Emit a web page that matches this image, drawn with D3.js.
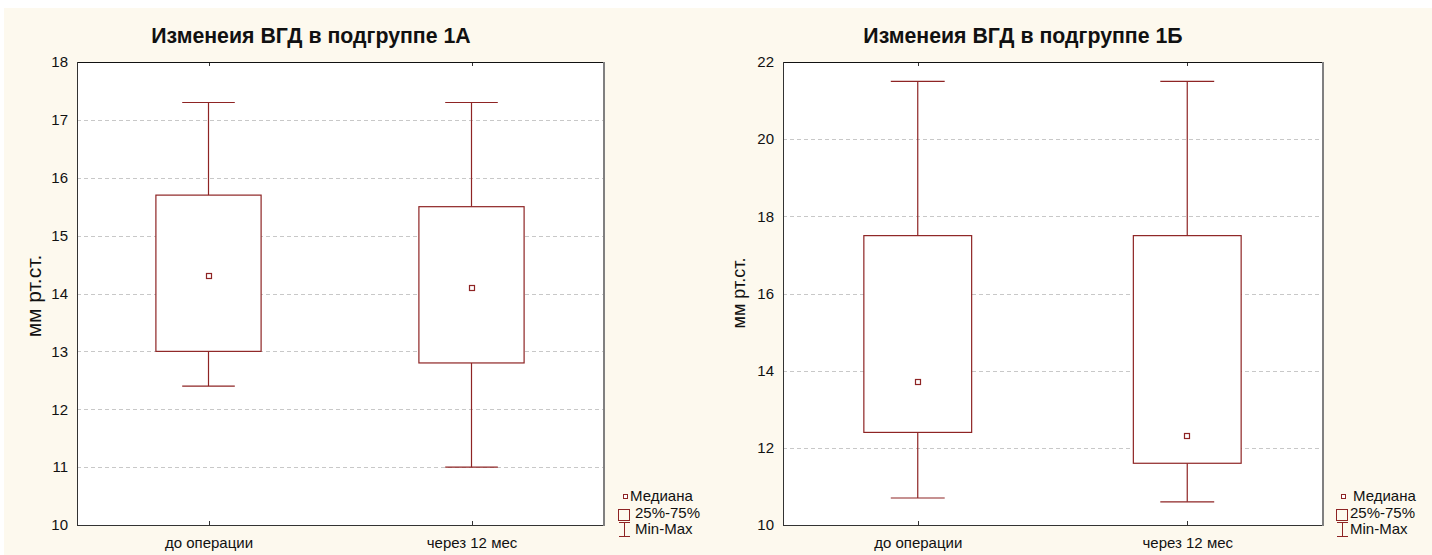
<!DOCTYPE html>
<html><head><meta charset="utf-8">
<script src="https://cdn.jsdelivr.net/npm/d3@7"></script>
<style>body{margin:0;background:#fff;}svg{display:block;font-family:"Liberation Sans",Arial,sans-serif;}</style>
</head><body>
<svg id="c" width="1432" height="555"></svg>
<script>
const categories = ["до операции", "через 12 мес"];
const titles = ["Изменеия ВГД в подгруппе 1А", "Изменеия ВГД в подгруппе 1Б"];
const yLabel = "мм рт.ст.";
// chart 1A
const minA = [12.4, 11.0];
const q1A = [13.0, 12.8];
const medA = [14.3, 14.1];
const q3A = [15.7, 15.5];
const maxA = [17.3, 17.3];
const ticksA = [10, 11, 12, 13, 14, 15, 16, 17, 18];
// chart 1B
const minB = [10.7, 10.6];
const q1B = [12.4, 11.6];
const medB = [13.7, 12.3];
const q3B = [17.5, 17.5];
const maxB = [21.5, 21.5];
const ticksB = [10, 12, 14, 16, 18, 20, 22];
const legendLabels = ["Медиана", "25%-75%", "Min-Max"];

const col = "#8e2424";
const svg = d3.select("#c");
svg.append("rect").attr("x", 4).attr("y", 8).attr("width", 1428).attr("height", 547).attr("fill", "#fdf9ee");

const panels = [
  {x0: 77, x1: 603, y0: 62, y1: 525, titleX: 311, ticks: ticksA, min: minA, q1: q1A, med: medA, q3: q3A, max: maxA, title: titles[0], ylabX: 41, ylabY: 296, ylabFs: 21, legX: 618, medTx: 630, tx: 635},
  {x0: 783, x1: 1322, y0: 62, y1: 525, titleX: 1023, ticks: ticksB, min: minB, q1: q1B, med: medB, q3: q3B, max: maxB, title: titles[1], ylabX: 745, ylabY: 293, ylabFs: 18, legX: 1336, medTx: 1353, tx: 1350}
];

panels.forEach(p => {
  const g = svg.append("g");
  const x = d3.scalePoint().domain(categories).range([p.x0, p.x1]).padding(0.5);
  const y = d3.scaleLinear().domain([p.ticks[0], p.ticks[p.ticks.length - 1]]).range([p.y1, p.y0]);
  const W = p.x1 - p.x0;
  g.append("rect").attr("x", p.x0).attr("y", p.y0).attr("width", W).attr("height", p.y1 - p.y0).attr("fill", "#fff");
  // grid
  g.selectAll(".grid").data(p.ticks.slice(1, -1)).enter().append("line")
    .attr("x1", p.x0).attr("x2", p.x1).attr("y1", d => Math.round(y(d)) + 0.5).attr("y2", d => Math.round(y(d)) + 0.5)
    .attr("stroke", "#c8c8c8").attr("stroke-dasharray", "4,3");
  // y axis
  const ya = d3.axisLeft(y).tickValues(p.ticks).tickSize(0).tickPadding(9).tickFormat(d3.format("d"));
  const yg = g.append("g").attr("transform", `translate(${p.x0},0)`).call(ya);
  yg.select(".domain").remove();
  yg.selectAll("text").attr("font-size", 15).attr("fill", "#111").attr("font-family", "Liberation Sans, Arial");
  // x axis bottom
  const xa = d3.axisBottom(x).tickSize(0).tickPadding(12);
  const xg = g.append("g").attr("transform", `translate(0,${p.y1})`).call(xa);
  xg.select(".domain").remove();
  xg.selectAll("text").attr("font-size", 15).attr("fill", "#111").attr("font-family", "Liberation Sans, Arial");
  // inner ticks
  g.selectAll(".tt").data(categories).enter().append("line")
    .attr("x1", d => Math.round(x(d)) + 0.5).attr("x2", d => Math.round(x(d)) + 0.5).attr("y1", p.y0).attr("y2", p.y0 + 4).attr("stroke", "#333");
  g.selectAll(".tb").data(categories).enter().append("line")
    .attr("x1", d => Math.round(x(d)) + 0.5).attr("x2", d => Math.round(x(d)) + 0.5).attr("y1", p.y1).attr("y2", p.y1 - 4).attr("stroke", "#333");
  // frame
  g.append("line").attr("x1", p.x0).attr("x2", p.x1).attr("y1", p.y0 + 0.5).attr("y2", p.y0 + 0.5).attr("stroke", "#111");
  g.append("line").attr("x1", p.x0).attr("x2", p.x1).attr("y1", p.y1 + 0.5).attr("y2", p.y1 + 0.5).attr("stroke", "#333");
  g.append("line").attr("x1", p.x0 + 0.5).attr("x2", p.x0 + 0.5).attr("y1", p.y0).attr("y2", p.y1 + 1).attr("stroke", "#333");
  g.append("line").attr("x1", p.x1 + 1).attr("x2", p.x1 + 1).attr("y1", p.y0).attr("y2", p.y1 + 1).attr("stroke", "#808080").attr("stroke-width", 2);

  const idx = d3.range(categories.length);
  const bw = W * 0.2, cw = W * 0.1;
  // whiskers
  g.selectAll(".wu").data(idx).enter().append("line")
    .attr("x1", i => x(categories[i])).attr("x2", i => x(categories[i]))
    .attr("y1", i => y(p.q3[i])).attr("y2", i => y(p.max[i])).attr("stroke", col).attr("stroke-width", 1.2);
  g.selectAll(".wl").data(idx).enter().append("line")
    .attr("x1", i => x(categories[i])).attr("x2", i => x(categories[i]))
    .attr("y1", i => y(p.q1[i])).attr("y2", i => y(p.min[i])).attr("stroke", col).attr("stroke-width", 1.2);
  g.selectAll(".cu").data(idx).enter().append("line")
    .attr("x1", i => x(categories[i]) - cw / 2).attr("x2", i => x(categories[i]) + cw / 2)
    .attr("y1", i => y(p.max[i])).attr("y2", i => y(p.max[i])).attr("stroke", col).attr("stroke-width", 1.2);
  g.selectAll(".cl").data(idx).enter().append("line")
    .attr("x1", i => x(categories[i]) - cw / 2).attr("x2", i => x(categories[i]) + cw / 2)
    .attr("y1", i => y(p.min[i])).attr("y2", i => y(p.min[i])).attr("stroke", col).attr("stroke-width", 1.2);
  // boxes
  g.selectAll(".bx").data(idx).enter().append("rect")
    .attr("x", i => x(categories[i]) - bw / 2).attr("width", bw)
    .attr("y", i => y(p.q3[i])).attr("height", i => y(p.q1[i]) - y(p.q3[i]))
    .attr("fill", "#fff").attr("stroke", col).attr("stroke-width", 1.2);
  // medians
  g.selectAll(".md").data(idx).enter().append("rect")
    .attr("x", i => Math.round(x(categories[i])) - 2.5).attr("width", 5)
    .attr("y", i => Math.round(y(p.med[i])) - 2.5).attr("height", 5)
    .attr("fill", "#fff").attr("stroke", col).attr("stroke-width", 1.2);
  // title
  g.append("text").attr("x", p.titleX).attr("y", 43).attr("text-anchor", "middle")
    .attr("font-size", 21.3).attr("font-weight", "bold").attr("fill", "#111").text(p.title);
  // y label
  g.append("text").attr("transform", `translate(${p.ylabX},${p.ylabY}) rotate(-90)`)
    .attr("text-anchor", "middle").attr("font-size", p.ylabFs).attr("fill", "#111").text(yLabel);
  // legend
  const lx = p.legX;
  const lg = g.append("g");
  lg.append("rect").attr("x", lx + 5.5).attr("y", 494.5).attr("width", 4).attr("height", 4).attr("fill", "#fff").attr("stroke", col);
  lg.append("rect").attr("x", lx + 0.5).attr("y", 509.5).attr("width", 11).attr("height", 11).attr("fill", "none").attr("stroke", col);
  lg.append("line").attr("x1", lx + 6.5).attr("x2", lx + 6.5).attr("y1", 522).attr("y2", 537).attr("stroke", col);
  lg.append("line").attr("x1", lx + 1).attr("x2", lx + 12).attr("y1", 522.5).attr("y2", 522.5).attr("stroke", col);
  lg.append("line").attr("x1", lx + 1).attr("x2", lx + 12).attr("y1", 536.5).attr("y2", 536.5).attr("stroke", col);
  const tx = [p.medTx, p.tx, p.tx];
  const ty = [501, 518, 534];
  legendLabels.forEach((t, i) => {
    lg.append("text").attr("x", tx[i]).attr("y", ty[i]).attr("font-size", 15).attr("fill", "#111").text(t);
  });
});
</script>
</body></html>
